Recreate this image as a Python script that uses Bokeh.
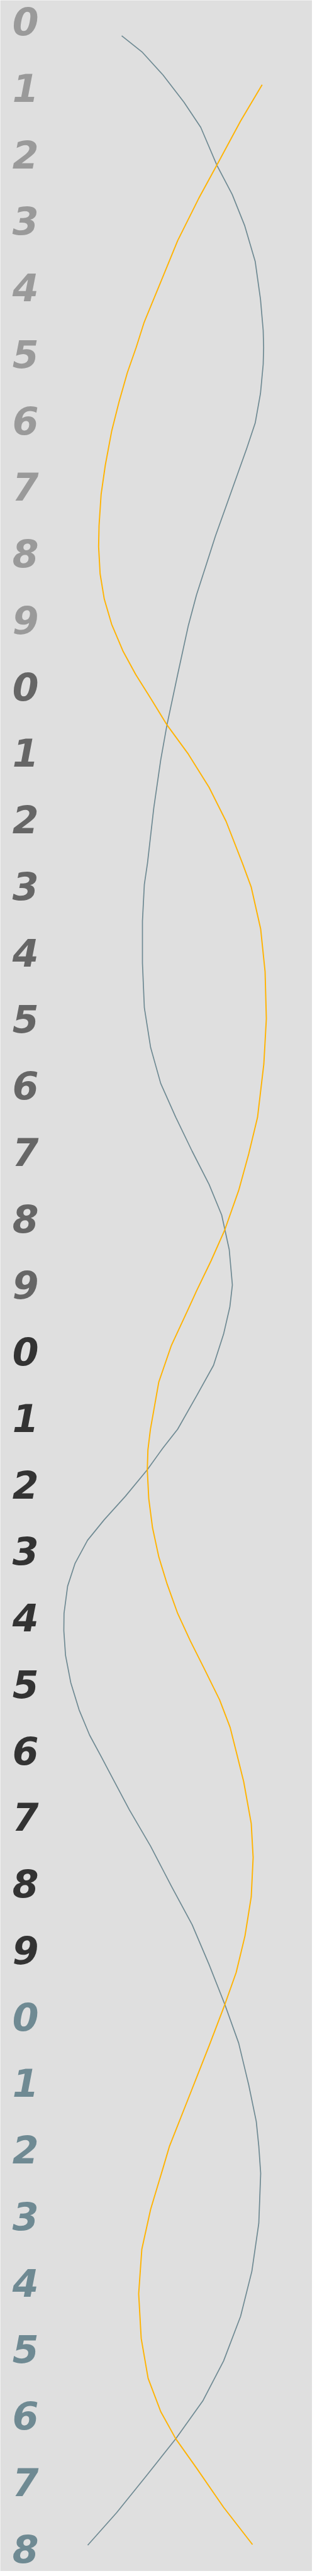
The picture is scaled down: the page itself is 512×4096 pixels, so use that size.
from bokeh.plotting import figure
from bokeh.models import Range1d, ColumnDataSource
from bokeh.core.properties import value
from bokeh.embed import file_html
from bokeh.resources import INLINE

# Row labels (0..38, shown as last digit), coloured by decade
rows = list(range(39))
row_labels = [str(r % 10) for r in rows]
decade_colors = ["#9a9a9a", "#666666", "#333333", "#6f8a93"]
label_colors = [decade_colors[r // 10] for r in rows]

# Grey series: row position and value
grey_row = [0.268, 0.511, 0.858, 1.267, 1.645, 2.213, 2.654, 3.127, 3.662, 4.230, 4.700,
            4.955, 5.208, 5.645, 6.090, 6.468, 6.910, 7.350, 7.792, 8.234, 8.674, 9.147,
            9.872, 10.63, 11.16, 11.88, 12.71, 13.03, 13.58, 14.21, 14.88, 15.48, 16.02,
            16.53, 17.04, 17.54, 18.00, 18.52, 19.05, 19.38, 19.79, 20.26, 20.72, 21.22,
            21.50, 21.83, 22.23, 22.58, 22.89, 23.24, 23.58, 23.99, 24.25, 24.62, 25.03,
            25.44, 25.82, 26.14, 26.35, 26.94, 27.49, 28.09, 28.67, 29.27, 29.87, 30.45,
            31.08, 31.63, 32.00, 32.41, 33.16, 33.88, 34.56, 35.23, 35.83, 36.40, 36.96,
            37.51, 38.00]
grey_val = [201, 233.3, 266.7, 300, 326.7, 352.3, 376.7, 396.7, 413.3, 421.7, 426,
            426.7, 426, 421.7, 413.3, 400, 383.3, 366.7, 350, 335, 320, 306.7,
            290, 273, 263, 252, 242, 237, 234, 234, 237, 247, 263,
            287, 313, 340, 360, 372, 377, 373, 363, 347, 320, 290,
            266.7, 241.7, 206.7, 173.3, 146.7, 126.7, 115, 109.3, 109, 111.7, 120,
            133.3, 150, 168.3, 180, 213, 247, 280, 313, 340, 365, 387,
            403, 415, 419, 422, 419, 408, 390, 363, 330, 287, 240,
            193, 147]

# Orange series: row position and value
orange_row = [1.005, 1.551, 2.213, 2.717, 3.348, 4.041, 4.577, 4.955, 5.333, 5.775, 6.216,
              6.721, 7.161, 7.634, 7.950, 8.359, 8.738, 9.116, 9.525, 9.872, 10.23, 10.63,
              11.07, 11.57, 12.08, 12.71, 13.07, 13.70, 14.34, 15.05, 15.73, 16.53, 17.08,
              17.63, 18.22, 18.69, 19.14, 19.41, 19.96, 20.51, 21.22, 21.53, 21.83, 22.26,
              22.70, 23.14, 23.55, 23.99, 24.40, 24.84, 25.29, 25.70, 26.14, 26.52, 27.15,
              27.66, 28.25, 28.84, 29.39, 29.87, 30.49, 31.21, 32.00, 32.32, 32.95, 33.55,
              34.22, 34.89, 35.49, 35.99, 36.40, 36.84, 37.43, 37.99]
orange_val = [424.3, 390, 352.3, 323.3, 290, 260, 236.7, 224, 210, 196.7, 185,
              175, 168.3, 165, 164.3, 166.7, 173.3, 185, 203.3, 223.3, 247, 273,
              307, 340, 367, 393, 407, 422, 429, 431, 427, 417, 403,
              387, 365, 343, 320, 307, 280, 260, 246.7, 242.7, 241.7, 244,
              250, 260, 273.3, 290, 310, 333.3, 356.7, 373.3, 385, 395, 407,
              410, 407, 397, 383, 365, 340, 310, 277, 267, 247, 233,
              228, 232, 243, 263, 287, 320, 363, 409]

label_x = [48] * len(rows)

BG = "#dfdfdf"
p = figure(width=496, height=4088, output_backend="svg", toolbar_location=None,
           x_range=Range1d(8, 504), y_range=Range1d(38.392, -0.2648),
           min_border=0, min_border_left=0, min_border_right=0,
           min_border_top=0, min_border_bottom=0)
p.xaxis.visible = False
p.yaxis.visible = False
p.grid.visible = False
p.outline_line_color = None
p.background_fill_color = BG
p.border_fill_color = BG

p.line(grey_val, grey_row, line_color="#6f8a93", line_width=1.7, line_join="round")
p.line(orange_val, orange_row, line_color="#ffb300", line_width=1.9, line_join="round")

src = ColumnDataSource(dict(x=label_x, y=rows, t=row_labels, c=label_colors))
p.text(x="x", y="y", text="t", source=src, text_color="c",
       text_font=value("DejaVu Sans"), text_font_style="bold italic",
       text_font_size="60px", text_align="center", text_baseline="middle",
       y_offset=5)

open("out.html", "w").write(file_html(p, INLINE))
